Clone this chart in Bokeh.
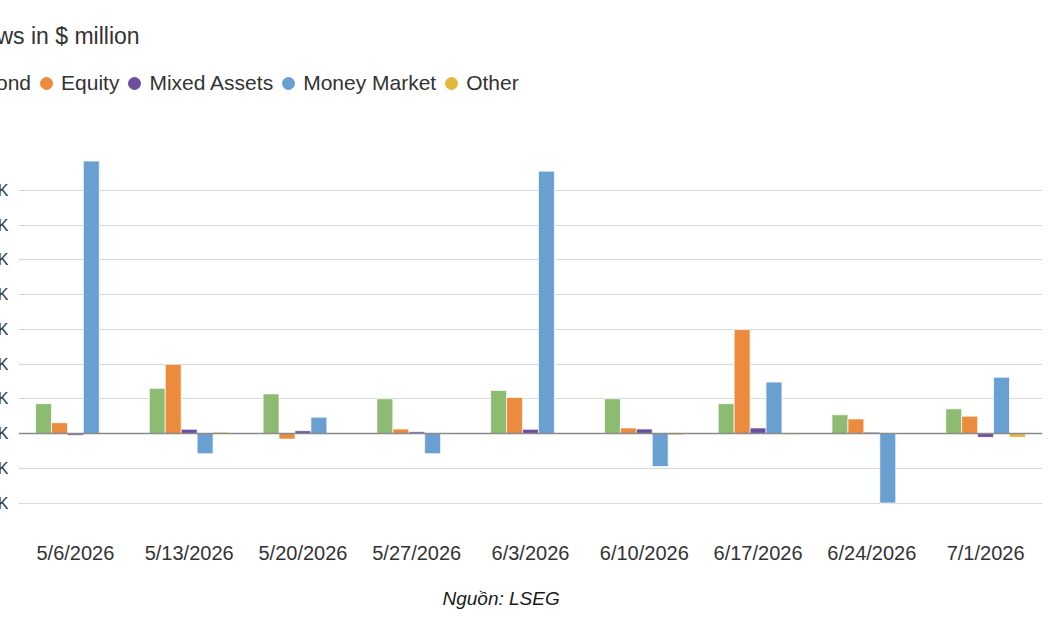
from bokeh.plotting import figure
from bokeh.layouts import column
from bokeh.models import (ColumnDataSource, FactorRange, Legend, LegendItem, Title, Span,
                          FixedTicker, Label, Range1d)
from bokeh.transform import dodge
from bokeh.embed import file_html
from bokeh.resources import INLINE

# ---- data (values in $ million) ----
dates = ["5/6/2026", "5/13/2026", "5/20/2026", "5/27/2026", "6/3/2026",
         "6/10/2026", "6/17/2026", "6/24/2026", "7/1/2026"]
bond = [8600, 13000, 11400, 10000, 12400, 10000, 8600, 5400, 7100]
equity = [3100, 19900, -1600, 1300, 10400, 1600, 29900, 4200, 5000]
mixed_assets = [-500, 1200, 800, 500, 1200, 1300, 1600, 400, -1100]
money_market = [78400, -5800, 4700, -5800, 75500, -9500, 14800, -20000, 16200]
other = [0, 400, 100, 0, 0, -400, -300, 0, -1100]
series_names = ["Bond", "Equity", "Mixed Assets", "Money Market", "Other"]
y_ticks = [-20000, -10000, 0, 10000, 20000, 30000, 40000, 50000, 60000, 70000]
y_tick_labels = ["-20K", "-10K", "0K", "10K", "20K", "30K", "40K", "50K", "60K", "70K"]
title_text = "Flows in $ million"
source_text = "Nguồn: LSEG"

colors = ["#8DBB72", "#EC8A3D", "#6A4FA0", "#6A9FD2", "#E3B73B"]
FONT = "Liberation Sans"
TXT = "#333333"

SHIFT = 45   # the left part of the chart lies beyond the window's left edge
W = 1050 + SHIFT
HEAD_H = 110
MAIN_LEFT = 63

# ---- header: title + legend ----
head = figure(width=W, height=HEAD_H, output_backend="svg", toolbar_location=None,
              x_range=Range1d(0, 1), y_range=Range1d(0, 1),
              x_axis_location=None, y_axis_location=None,
              min_border_left=0, min_border_right=0, min_border_top=0, min_border_bottom=0,
              styles={"margin-left": f"-{MAIN_LEFT}px"})
head.xgrid.grid_line_color = None
head.ygrid.grid_line_color = None
head.outline_line_color = None

head.add_layout(Label(x=9, y=HEAD_H - 35, x_units="screen", y_units="screen", text=title_text,
                      text_font=FONT, text_font_size="23px", text_color=TXT,
                      text_baseline="middle", text_align="left"))

items = []
for name, c in zip(series_names, colors):
    r = head.scatter(x=[0.5], y=[float("nan")], marker="circle", size=12,
                     fill_color=c, line_color=c)
    items.append(LegendItem(label=name, renderers=[r]))
legend = Legend(items=items, orientation="horizontal", location=(-3, 12),
                label_text_font=FONT, label_text_font_size="21px", label_text_color=TXT,
                glyph_width=30, glyph_height=30, label_standoff=0, spacing=0,
                padding=0, margin=0, border_line_color=None, background_fill_alpha=0)
head.add_layout(legend, "center")

# ---- main chart ----
src = ColumnDataSource(dict(date=dates, bond=bond, equity=equity, mixed=mixed_assets,
                            money=money_market, other=other))

p = figure(x_range=FactorRange(*dates), y_range=(-21000, 80000),
           width=W, height=630 - HEAD_H, output_backend="svg", toolbar_location=None,
           min_border_left=MAIN_LEFT, min_border_right=8, min_border_top=155 - HEAD_H,
           min_border_bottom=124)

fields = ["bond", "equity", "mixed", "money", "other"]
offsets = [-0.28, -0.14, 0.0, 0.14, 0.28]
for f, off, c in zip(fields, offsets, colors):
    p.vbar(x=dodge("date", off, range=p.x_range), top=f, bottom=0, width=0.14, source=src,
           fill_color=c, line_color="white", line_alpha=0.7, line_width=1)

p.add_layout(Span(location=0, dimension="width", line_color="#8a8a8a", line_width=1.5))

p.add_layout(Title(text=source_text, align="left", offset=424, standoff=39,
                   text_font=FONT, text_font_size="19px", text_font_style="italic",
                   text_color="#1a1a1a"), "below")

p.yaxis.ticker = FixedTicker(ticks=y_ticks)
p.yaxis.major_label_overrides = {t: l for t, l in zip(y_ticks, y_tick_labels)}
p.yaxis.axis_line_color = None
p.yaxis.major_tick_line_color = None
p.yaxis.minor_tick_line_color = None
p.yaxis.major_label_standoff = 4
p.yaxis.major_label_text_font = FONT
p.yaxis.major_label_text_font_size = "16px"
p.yaxis.major_label_text_color = TXT

p.xaxis.axis_line_color = None
p.xaxis.major_tick_line_color = None
p.xaxis.minor_tick_line_color = None
p.xaxis.major_label_standoff = 29
p.xaxis.major_label_text_font = FONT
p.xaxis.major_label_text_font_size = "20px"
p.xaxis.major_label_text_color = TXT

p.xgrid.grid_line_color = None
p.ygrid.grid_line_color = "#d9d9d9"
p.ygrid.grid_line_width = 1
p.outline_line_color = None

page = column(head, p, spacing=0, styles={"margin-left": f"-{SHIFT}px"})

open("out.html", "w").write(file_html(page, INLINE))
